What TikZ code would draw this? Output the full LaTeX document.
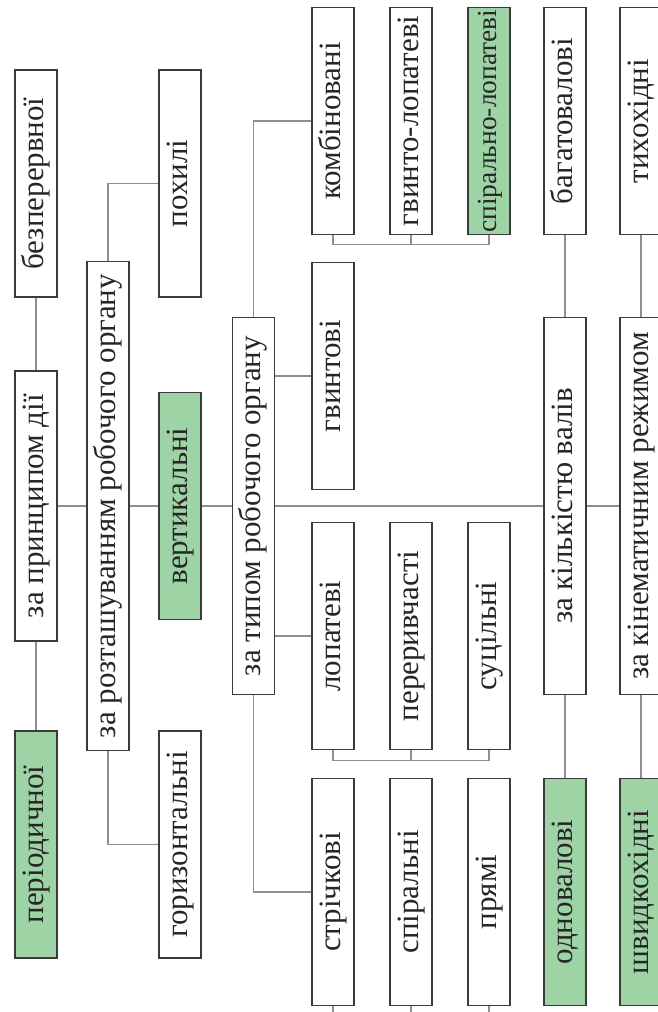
\documentclass[tikz,border=0pt]{standalone}
\usepackage{fontspec}
\setmainfont{Liberation Serif}
\usepackage{graphicx}
\usepackage{tikz}
\definecolor{Edge}{HTML}{3A3A3A}
\definecolor{Wire}{HTML}{8E8E8E}
\definecolor{Pick}{HTML}{9ED3A6}
\definecolor{Ink}{HTML}{262626}
\newcommand{\vlabel}[1]{\rotatebox{90}{\strut #1}}

\begin{document}
\begin{tikzpicture}[
  x=1pt, y=-1pt,
  box/.style={
    draw=Edge, line width=1.6pt, fill=white, text=Ink,
    minimum width=42pt, minimum height=227pt, inner sep=0pt,
    font=\fontsize{31}{37}\selectfont
  },
  pick/.style={box, fill=Pick},
  link/.style={draw=Wire, line width=1.6pt}
]
\useasboundingbox (0,0) rectangle (658,1012);
\clip (0,0) rectangle (658,1012);
\fill[white] (0,0) rectangle (658,1012);

\node[box] (bezper) at (36,183.5) {\vlabel{безперервної}};
\node[box, minimum height=270pt] (pryntsyp) at (36,506) {\vlabel{за принципом дії}};
\node[pick] (period) at (36,844.5) {\vlabel{періодичної}};

\node[box, minimum height=489pt] (roztash) at (108,506) {\vlabel{за розташуванням робочого органу}};

\node[box] (pokhyli) at (180,183.5) {\vlabel{похилі}};
\node[pick] (vertyk) at (180,506) {\vlabel{вертикальні}};
\node[box] (horyz) at (180,844.5) {\vlabel{горизонтальні}};

\node[box, minimum height=377pt] (typom) at (253.5,506) {\vlabel{за типом робочого органу}};

\node[box] (kombin) at (333,121) {\vlabel{комбіновані}};
\node[box] (hvynt) at (333,376) {\vlabel{гвинтові}};
\node[box] (lopat) at (333,636) {\vlabel{лопатеві}};
\node[box] (strich) at (333,892) {\vlabel{стрічкові}};

\node[box] (hvlop) at (411,121) {\vlabel{гвинто-лопатеві}};
\node[box] (pereryv) at (411,636) {\vlabel{переривчасті}};
\node[box] (spiral) at (411,892) {\vlabel{спіральні}};

\node[pick, font=\fontsize{27.5}{35}\selectfont] (spirlop) at (489,121) {\vlabel{спірально-лопатеві}};
\node[box] (sutsil) at (489,636) {\vlabel{суцільні}};
\node[box] (priami) at (489,892) {\vlabel{прямі}};

\node[box] (bahat) at (565,121) {\vlabel{багатовалові}};
\node[box, minimum height=377pt] (kilkist) at (565,506) {\vlabel{за кількістю валів}};
\node[pick] (odnoval) at (565,892) {\vlabel{одновалові}};

\node[box] (tykhokh) at (641,121) {\vlabel{тихохідні}};
\node[box, minimum height=377pt] (kinemat) at (641,506) {\vlabel{за кінематичним режимом}};
\node[pick] (shvydk) at (641,892) {\vlabel{швидкохідні}};

\draw[link] (bezper) -- (pryntsyp);
\draw[link] (pryntsyp) -- (period);
\draw[link] (pryntsyp) -- (roztash) -- (vertyk) -- (typom) -- (kilkist) -- (kinemat);
\draw[link] (pokhyli) -| (roztash);
\draw[link] (horyz) -| (roztash);
\draw[link] (kombin) -| (typom);
\draw[link] (strich) -| (typom);
\draw[link] (hvynt.west) -- (hvynt.west -| typom.east);
\draw[link] (lopat.west) -- (lopat.west -| typom.east);
\draw[link] (kombin.south) -- ++(0,9) -| (spirlop.south);
\draw[link] (hvlop.south) -- ++(0,9);
\draw[link] (lopat.south) -- ++(0,10) -| (sutsil.south);
\draw[link] (pereryv.south) -- ++(0,10);
\foreach \n in {strich,spiral,priami}
  \draw[link] (\n.south) -- ++(0,12);
\draw[link] (bahat) -- (kilkist) -- (odnoval);
\draw[link] (tykhokh) -- (kinemat) -- (shvydk);
\end{tikzpicture}
\end{document}
